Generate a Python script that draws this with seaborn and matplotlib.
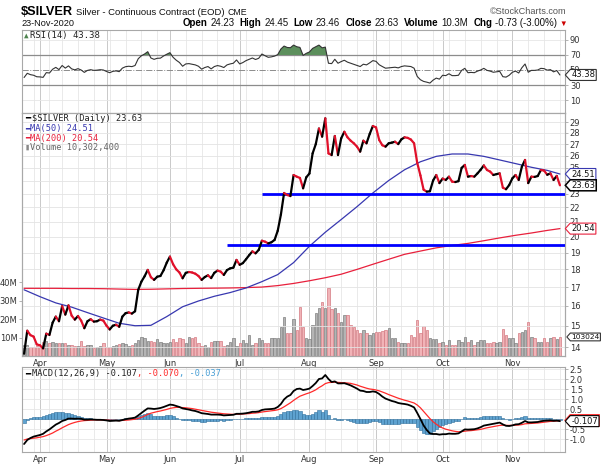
import numpy as np
import pandas as pd
import matplotlib
matplotlib.use("Agg")
import matplotlib.pyplot as plt
import seaborn as sns
from matplotlib import transforms
from matplotlib.collections import LineCollection
from matplotlib.path import Path
from matplotlib.ticker import NullLocator

sns.set_theme(style="white")
plt.rcParams['font.family'] = ['DejaVu Sans']

# trading days on the chart (futures calendar, 25-Mar-2020 .. 23-Nov-2020)
holidays = ["2020-04-10", "2020-05-25", "2020-07-03", "2020-09-07"]
dates = pd.bdate_range("2020-03-25", "2020-11-23", freq="C", holidays=holidays)

# daily closes
close = [
    13.70, 14.76, 14.55, 14.48, 14.12, 14.08, 13.94, 14.62, 14.56, 15.15,
    15.45, 15.22, 15.98, 15.55, 16.02, 15.50, 15.30, 15.48, 15.25, 14.88,
    15.22, 15.32, 15.20, 15.22, 15.30, 15.25, 15.00, 14.82, 15.00, 15.05,
    14.95, 15.45, 15.62, 15.66, 15.60, 15.72, 16.85, 17.30, 17.60, 17.97,
    17.55, 17.40, 17.58, 17.62, 17.95, 18.40, 18.76, 18.30, 18.00, 17.82,
    17.49, 17.80, 17.85, 17.82, 17.75, 17.62, 17.40, 17.56, 17.66, 17.50,
    17.80, 17.93, 17.87, 17.68, 17.96, 18.06, 18.10, 18.56, 18.27, 18.37,
    18.60, 18.85, 19.08, 18.96, 19.17, 19.75, 19.69, 19.58, 19.65, 19.80,
    20.40, 21.50, 23.05, 22.90, 22.82, 24.43, 24.30, 24.20, 23.40, 24.25,
    24.55, 26.20, 27.00, 28.40, 27.66, 29.35, 26.20, 26.06, 27.72, 26.06,
    27.50, 28.10, 27.60, 27.30, 27.07, 26.78, 26.35, 27.30, 27.07, 27.90,
    28.63, 28.50, 27.36, 26.90, 26.78, 27.07, 27.13, 27.21, 27.00, 27.42,
    27.60, 27.55, 27.40, 27.07, 25.40, 24.40, 23.30, 23.15, 23.18, 24.00,
    24.43, 23.80, 24.15, 24.04, 24.30, 23.91, 23.88, 23.95, 25.00, 25.24,
    24.30, 24.35, 24.30, 24.56, 24.85, 25.20, 24.83, 24.70, 24.43, 24.50,
    24.56, 23.45, 23.33, 23.65, 24.17, 24.43, 24.04, 25.10, 25.65, 23.80,
    24.30, 24.28, 24.35, 24.83, 24.78, 24.45, 24.56, 24.04, 24.36, 23.63,
]

# daily volume, millions of contracts
volume_m = [
    5.9, 5.9, 5.0, 5.0, 5.4, 5.0, 7.7, 8.3, 6.8, 7.7,
    7.2, 7.2, 6.8, 6.8, 6.0, 5.9, 5.4, 5.5, 8.3, 5.4,
    5.9, 5.9, 4.1, 4.7, 5.4, 7.2, 4.7, 5.0, 5.4, 5.9,
    6.5, 6.8, 6.5, 5.4, 5.9, 7.2, 8.6, 10.5, 9.5, 8.3,
    8.3, 7.7, 9.0, 7.7, 7.2, 7.2, 7.7, 9.0, 7.7, 9.5,
    9.0, 7.2, 10.1, 9.5, 10.1, 7.2, 5.4, 5.9, 5.0, 7.7,
    8.3, 8.3, 8.3, 5.4, 5.9, 7.7, 9.5, 5.4, 7.2, 8.6,
    7.2, 11.4, 5.9, 7.2, 9.5, 8.6, 6.8, 6.8, 9.5, 9.5,
    9.5, 15.9, 21.3, 12.3, 12.3, 19.8, 14.0, 26.7, 15.9, 9.5,
    9.0, 16.8, 23.0, 25.8, 29.4, 25.8, 37.0, 25.2, 25.8, 23.1,
    18.6, 22.2, 22.2, 16.8, 15.9, 14.1, 12.3, 14.1, 12.3, 11.4,
    12.3, 13.2, 13.2, 13.7, 14.1, 15.0, 9.5, 10.0, 7.7, 6.8,
    7.2, 7.2, 11.4, 10.1, 19.5, 12.3, 16.2, 14.1, 9.5, 9.0,
    9.0, 6.8, 7.7, 5.9, 8.6, 5.9, 5.9, 8.6, 7.7, 10.5,
    7.7, 8.6, 5.9, 7.7, 8.6, 8.6, 7.2, 6.8, 7.7, 7.0,
    7.7, 14.4, 11.4, 9.5, 9.5, 6.8, 12.3, 13.2, 14.1, 18.6,
    10.5, 9.5, 7.7, 7.7, 9.5, 7.7, 9.5, 10.5, 9.0, 10.3,
]

rsi = [
    40.0, 45.6, 43.8, 43.0, 41.0, 40.8, 40.2, 46.5, 46.0, 51.0,
    53.5, 50.5, 56.0, 52.5, 55.5, 51.5, 50.2, 51.8, 50.0, 46.8,
    49.5, 50.4, 49.5, 49.8, 50.4, 50.0, 48.0, 46.4, 48.2, 48.8,
    47.8, 52.5, 54.4, 55.0, 54.5, 56.0, 65.0, 69.0, 71.3, 74.4,
    66.0, 64.2, 65.6, 65.8, 68.7, 71.0, 73.1, 66.9, 63.0, 60.0,
    55.0, 58.1, 58.5, 57.7, 56.8, 55.0, 51.1, 53.3, 54.6, 51.5,
    54.6, 55.9, 55.0, 53.3, 56.8, 58.1, 59.0, 63.4, 58.1, 59.9,
    62.5, 64.3, 66.0, 64.0, 65.6, 71.3, 69.0, 66.9, 67.5, 68.5,
    70.5, 78.0, 81.9, 80.0, 79.7, 83.2, 81.0, 80.1, 69.5, 72.2,
    74.0, 78.8, 81.0, 83.2, 79.5, 80.5, 59.0, 58.5, 64.3, 59.0,
    61.2, 63.0, 60.5, 59.0, 57.5, 56.0, 54.6, 57.7, 56.8, 59.5,
    62.5, 61.5, 57.0, 54.6, 52.4, 52.8, 53.3, 53.7, 52.8, 54.6,
    55.5, 55.0, 54.6, 52.4, 41.4, 37.0, 34.8, 33.8, 32.6, 36.5,
    39.2, 37.8, 43.0, 42.5, 45.0, 42.5, 42.5, 43.0, 49.5, 52.2,
    46.4, 46.8, 46.4, 48.5, 50.0, 52.2, 49.5, 48.5, 47.0, 47.6,
    48.2, 41.1, 40.5, 43.0, 47.0, 48.5, 46.0, 53.0, 58.0, 47.0,
    49.5, 49.5, 50.0, 52.2, 51.8, 49.8, 50.5, 47.5, 49.3, 43.38,
]

macd = [
    -1.25, -1.05, -0.95, -0.88, -0.84, -0.80, -0.74, -0.62, -0.52, -0.40,
    -0.28, -0.20, -0.10, -0.05, 0.02, 0.02, 0.01, 0.02, 0.01, -0.03,
    -0.03, -0.02, -0.03, -0.04, -0.04, -0.05, -0.07, -0.10, -0.09, -0.08,
    -0.09, -0.05, -0.01, 0.02, 0.04, 0.07, 0.18, 0.30, 0.42, 0.53,
    0.52, 0.50, 0.52, 0.55, 0.60, 0.66, 0.72, 0.70, 0.65, 0.60,
    0.53, 0.50, 0.47, 0.43, 0.40, 0.35, 0.29, 0.27, 0.25, 0.22,
    0.22, 0.22, 0.21, 0.18, 0.19, 0.20, 0.21, 0.26, 0.26, 0.27,
    0.29, 0.32, 0.36, 0.36, 0.38, 0.45, 0.48, 0.49, 0.50, 0.52,
    0.60, 0.75, 0.98, 1.12, 1.20, 1.40, 1.50, 1.52, 1.45, 1.48,
    1.52, 1.65, 1.80, 2.00, 2.03, 2.20, 2.00, 1.85, 1.88, 1.78,
    1.78, 1.79, 1.74, 1.68, 1.60, 1.52, 1.42, 1.40, 1.35, 1.35,
    1.38, 1.35, 1.25, 1.12, 1.02, 0.96, 0.90, 0.86, 0.80, 0.77,
    0.75, 0.72, 0.66, 0.58, 0.30, 0.00, -0.32, -0.55, -0.72, -0.75,
    -0.75, -0.78, -0.76, -0.76, -0.73, -0.74, -0.74, -0.72, -0.62, -0.52,
    -0.53, -0.52, -0.51, -0.47, -0.41, -0.33, -0.30, -0.27, -0.24, -0.21,
    -0.18, -0.27, -0.34, -0.35, -0.32, -0.27, -0.26, -0.19, -0.10, -0.17,
    -0.17, -0.16, -0.15, -0.11, -0.09, -0.08, -0.07, -0.09, -0.08, -0.107,
]

signal = [
    -1.05, -1.00, -0.98, -0.96, -0.94, -0.91, -0.88, -0.83, -0.77, -0.70,
    -0.61, -0.53, -0.44, -0.36, -0.28, -0.22, -0.17, -0.13, -0.10, -0.08,
    -0.07, -0.06, -0.05, -0.05, -0.05, -0.05, -0.05, -0.06, -0.07, -0.07,
    -0.08, -0.07, -0.06, -0.05, -0.03, -0.01, 0.03, 0.08, 0.15, 0.23,
    0.29, 0.33, 0.37, 0.40, 0.44, 0.48, 0.53, 0.56, 0.58, 0.58,
    0.57, 0.56, 0.54, 0.52, 0.49, 0.46, 0.43, 0.40, 0.37, 0.34,
    0.32, 0.30, 0.28, 0.26, 0.25, 0.24, 0.23, 0.24, 0.24, 0.25,
    0.26, 0.27, 0.29, 0.30, 0.32, 0.35, 0.37, 0.39, 0.41, 0.43,
    0.46, 0.52, 0.61, 0.71, 0.81, 0.93, 1.04, 1.14, 1.20, 1.26,
    1.31, 1.38, 1.46, 1.57, 1.66, 1.77, 1.82, 1.83, 1.84, 1.83,
    1.82, 1.81, 1.80, 1.78, 1.74, 1.70, 1.64, 1.59, 1.54, 1.50,
    1.48, 1.45, 1.41, 1.35, 1.29, 1.22, 1.16, 1.10, 1.04, 0.99,
    0.94, 0.90, 0.85, 0.80, 0.70, 0.56, 0.38, 0.20, 0.02, -0.14,
    -0.26, -0.37, -0.45, -0.51, -0.55, -0.59, -0.62, -0.64, -0.63, -0.61,
    -0.59, -0.58, -0.56, -0.54, -0.52, -0.48, -0.44, -0.41, -0.38, -0.35,
    -0.32, -0.31, -0.32, -0.32, -0.32, -0.31, -0.30, -0.28, -0.24, -0.23,
    -0.22, -0.21, -0.20, -0.18, -0.16, -0.14, -0.12, -0.11, -0.10, -0.070,
]

# moving averages, read every 5th trading day plus the last day
ma_every = 5
ma50 = [16.85, 16.48, 16.15, 15.93, 15.65, 15.38, 15.12, 15.00, 15.02, 15.45,
        15.95, 16.25, 16.50, 16.70, 16.95, 17.30, 17.70, 18.40, 19.40, 20.30,
        21.15, 22.05, 23.05, 24.00, 24.85, 25.50, 25.95, 26.15, 26.15, 25.95,
        25.65, 25.35, 25.05, 24.80, 24.51]
ma200 = [16.93, 16.93, 16.93, 16.92, 16.92, 16.91, 16.89, 16.87, 16.88, 16.90,
         16.92, 16.93, 16.94, 16.95, 16.97, 17.00, 17.08, 17.20, 17.35, 17.52,
         17.72, 18.00, 18.30, 18.60, 18.90, 19.10, 19.30, 19.45, 19.58, 19.75,
         19.93, 20.10, 20.25, 20.42, 20.54]

# hand-drawn support lines
trend_levels = [23.0, 19.5]
trend_from = ["2020-07-13", "2020-06-25"]

price_ticks = list(range(14, 30))
volume_ticks = [10, 20, 30, 40]
rsi_ticks = [10, 30, 50, 70, 90]
macd_ticks = [-1.0, -0.5, 0.5, 1.0, 1.5, 2.0, 2.5]

df = pd.DataFrame({"date": dates, "close": close, "volume": np.array(volume_m) * 1e6,
                   "rsi": rsi, "macd": macd, "signal": signal})
df["x"] = np.arange(len(df))
df["hist"] = df["macd"] - df["signal"]
df["up"] = df["close"].diff().fillna(1) >= 0
n = len(df)
ma = pd.DataFrame({"x": np.r_[np.arange(0, n, ma_every), n - 1], "ma50": ma50, "ma200": ma200})

months = df.groupby(df["date"].dt.to_period("M"))["x"].first()
months = months[df.loc[months.values, "date"].dt.day.values <= 7]
weeks = df.groupby(df["date"].dt.to_period("W"))["x"].first().values[1:]

FW, FH = 603, 469
fig = plt.figure(figsize=(FW / 100, FH / 100), dpi=100)
fig.patch.set_facecolor("white")
L, R = 22.5, 565


def rect(top, bottom):
    return [L / FW, 1 - bottom / FH, (R - L) / FW, (bottom - top) / FH]


ax_rsi = fig.add_axes(rect(30, 113))
ax_vol = fig.add_axes(rect(113, 356))
ax = ax_vol.twinx()
ax_macd = fig.add_axes(rect(367, 452))

XL = (-0.5, 170.6)
grey = "#333333"
for a in (ax_rsi, ax_vol, ax, ax_macd):
    a.set_xlim(*XL)
    a.set_facecolor("white")
    for s in a.spines.values():
        s.set_color("#a8a8a8")
        s.set_linewidth(0.8)
for a in (ax_rsi, ax_vol, ax_macd):
    for w in weeks:
        a.axvline(w, color="#e6e6e6", lw=0.6, zorder=0)
    for m in months.values:
        a.axvline(m, color="#c9c9c9", lw=0.7, zorder=0)

# ---------------- RSI panel
ax_rsi.set_ylim(-7.3, 103.3)
for v in (10, 90):
    ax_rsi.axhline(v, color="#e6e6e6", lw=0.6, zorder=0)
ax_rsi.axhline(70, color="#8c8c8c", lw=0.9)
ax_rsi.axhline(30, color="#8c8c8c", lw=0.9)
ax_rsi.axhline(50, color="#8c8c8c", lw=0.7, ls="-.")
r = df["rsi"].values
ax_rsi.fill_between(df["x"], r, 70, where=r >= 70, interpolate=True, color="#5c8f5c", lw=0, zorder=2)
sns.lineplot(x="x", y="rsi", data=df, ax=ax_rsi, color="#333333", lw=0.8, zorder=3)
ax_rsi.yaxis.tick_right()
ax_rsi.set_yticks(rsi_ticks)
ax_rsi.set_yticklabels([str(v) for v in rsi_ticks])
ax_rsi.set_xticks([])

# ---------------- price + volume panel
vcol = np.where(df["up"], "#b4b4b4", "#f1b3b7")
vedge = np.where(df["up"], "#7f7f7f", "#d47a82")
ax_vol.bar(df["x"], df["volume"], width=0.75, color=vcol, edgecolor=vedge, linewidth=0.5, zorder=1)
ax_vol.set_ylim(0, 131.4e6)
ax_vol.set_yticks([v * 1e6 for v in volume_ticks])
ax_vol.set_yticklabels([f"{v}M" for v in volume_ticks])
ax_vol.yaxis.tick_left()

ax.set_yscale("log")
ax.set_ylim(13.6, 29.86)
for v in price_ticks:
    ax.axhline(v, color="#e3e3e3", lw=0.6, zorder=0)
ax.set_yticks(price_ticks)
ax.set_yticklabels([str(v) for v in price_ticks])
ax.yaxis.set_minor_locator(NullLocator())

sns.lineplot(x="x", y="ma200", data=ma, ax=ax, color="#e8203c", lw=0.9, zorder=3)
sns.lineplot(x="x", y="ma50", data=ma, ax=ax, color="#3838b0", lw=0.9, zorder=3)
for lvl, start in zip(trend_levels, trend_from):
    x0 = df.index[df["date"] == pd.Timestamp(start)][0]
    ax.hlines(lvl, x0, XL[1], color="#0000ff", lw=2.0, zorder=4)

pts = np.column_stack([df["x"], df["close"]])
segs = np.stack([pts[:-1], pts[1:]], axis=1)
seg_col = np.where(df["up"].values[1:], "#000000", "#e0102a")
ax.add_collection(LineCollection(segs, colors=seg_col, linewidths=1.6, zorder=5, capstyle="round"))

ax_vol.set_xticks(months.values)
ax_vol.set_xticklabels([d.strftime("%b") for d in df.loc[months.values, "date"]])

# ---------------- MACD panel
ax_macd.set_ylim(-1.65, 2.6)
for v in macd_ticks + [0.0]:
    ax_macd.axhline(v, color="#e6e6e6", lw=0.6, zorder=0)
ax_macd.bar(df["x"], df["hist"], width=1.0, color="#5ea2d0", edgecolor="#2f6f9c", linewidth=0.4, zorder=2)
sns.lineplot(x="x", y="signal", data=df, ax=ax_macd, color="#ff2a2a", lw=0.9, zorder=3)
sns.lineplot(x="x", y="macd", data=df, ax=ax_macd, color="#000000", lw=1.3, zorder=4)
ax_macd.yaxis.tick_right()
ax_macd.set_yticks(macd_ticks)
ax_macd.set_yticklabels([f"{v:.1f}" for v in macd_ticks])
ax_macd.set_xticks(months.values)
ax_macd.set_xticklabels([d.strftime("%b") for d in df.loc[months.values, "date"]])

for a in (ax_rsi, ax_vol, ax, ax_macd):
    a.set_xlabel("")
    a.set_ylabel("")
    a.tick_params(axis="both", which="both", labelsize=6, labelcolor=grey, length=2,
                  color="#a8a8a8", pad=1.5, width=0.6)
ax_vol.tick_params(axis="x", length=0, pad=2)
ax_macd.tick_params(axis="x", length=0, pad=2)


def tag_shape(x0, y0, width, height, mutation_size):
    # rectangle with a pointed left side, like the chart's value flags
    pad = 0.12 * mutation_size
    x0, y0 = x0 - pad, y0 - pad
    x1, y1 = x0 + width + 2 * pad, y0 + height + 2 * pad
    tip = (y1 - y0) * 0.45
    verts = [(x0, y0), (x1, y0), (x1, y1), (x0, y1), (x0 - tip, (y0 + y1) / 2), (x0, y0)]
    codes = [Path.MOVETO] + [Path.LINETO] * 4 + [Path.CLOSEPOLY]
    return Path(verts, codes)


def tag(axis, ytr, y, text, color, lw=0.8, size=6):
    tr = transforms.blended_transform_factory(axis.transAxes, ytr)
    axis.annotate(text, xy=(1, y), xycoords=tr, xytext=(4.5, 0), textcoords="offset points",
                  ha="left", va="center", fontsize=size, color="#111111", annotation_clip=False,
                  bbox=dict(boxstyle=tag_shape, fc="white", ec=color, lw=lw), zorder=10)


tag(ax_rsi, ax_rsi.transData, rsi[-1], f"{rsi[-1]:.2f}", "#333333")
tag(ax, ax.transData, ma50[-1], f"{ma50[-1]:.2f}", "#3838b0")
tag(ax, ax.transData, ma200[-1], f"{ma200[-1]:.2f}", "#e8203c")
tag(ax, ax.transData, close[-1], f"{close[-1]:.2f}", "#000000", lw=1.1)
tag(ax, ax_vol.transData, volume_m[-1] * 1e6, "103024", "#333333", size=5.4)
tag(ax_macd, ax_macd.transData, signal[-1], "-0.070", "#ff2a2a", lw=1.2)
tag(ax_macd, ax_macd.transData, macd[-1], f"{macd[-1]:.3f}", "#000000")

# ---------------- text
rend = fig.canvas.get_renderer()


def chain(parts, x, y, family, align="left"):
    items = []
    for s, col, wt, gap, size in parts:
        t = fig.text(0, 0, s, fontsize=size, color=col, fontweight=wt, family=family,
                     va="baseline", ha="left")
        items.append((t, t.get_window_extent(rend).width + gap))
    if align == "right":
        x -= sum(w for _, w in items)
    for t, w in items:
        t.set_position((x / FW, 1 - y / FH))
        x += w


hdr = ["Liberation Sans", "DejaVu Sans"]
chain([("$SILVER", "#000000", "bold", 3, 9.2),
       ("Silver - Continuous Contract (EOD)", "#111111", "normal", 3, 6.8),
       ("CME", "#111111", "normal", 0, 6.3)], 21, 15, hdr)
chain([("\u00a9StockCharts.com", "#555555", "normal", 0, 6.6)], 567, 14.5, hdr, align="right")
chain([("23-Nov-2020", "#111111", "normal", 0, 6.6)], 21, 25.5, hdr)
row = []
for lab, val in [("Open", "24.23"), ("High", "24.45"), ("Low", "23.46"), ("Close", "23.63"),
                 ("Volume", "10.3M"), ("Chg", "-0.73 (-3.00%)")]:
    row += [(lab, "#000000", "bold", 2.5, 7.0), (val, "#111111", "normal", 5.5, 7.0)]
row[-1] = (row[-1][0], row[-1][1], "normal", 2.5, 7.0)
row.append(("\u25bc", "#cc0000", "normal", 0, 5.5))
chain(row, 567, 25.5, hdr, align="right")

lg = ["DejaVu Sans Mono", "DejaVu Sans"]
chain([("\u25b2", "#4f844f", "normal", 1.5, 5.5), ("RSI(14) 43.38", "#222222", "normal", 0, 6.4)], 24, 38, lg)
chain([("\u2501", "#000000", "normal", 1.5, 6.2), ("$SILVER (Daily) 23.63", "#222222", "normal", 0, 6.2)], 25, 121, lg)
chain([("\u2501", "#3838b0", "normal", 0, 6.2), ("MA(50) 24.51", "#3838b0", "normal", 0, 6.2)], 25, 131, lg)
chain([("\u2501", "#e8203c", "normal", 0, 6.2), ("MA(200) 20.54", "#e8203c", "normal", 0, 6.2)], 25, 140.5, lg)
chain([("\u25ae", "#888888", "normal", 0, 6.2), ("Volume 10,302,400", "#666666", "normal", 0, 6.2)], 25, 150, lg)
chain([("\u2501", "#000000", "normal", 1.5, 6.2), ("MACD(12,26,9) -0.107", "#222222", "normal", 0, 6.2),
       (", -0.070", "#ff2a2a", "normal", 0, 6.2), (", -0.037", "#4a9fd5", "normal", 0, 6.2)], 25, 376, lg)

fig.savefig("out.png", dpi=100, facecolor="white")
